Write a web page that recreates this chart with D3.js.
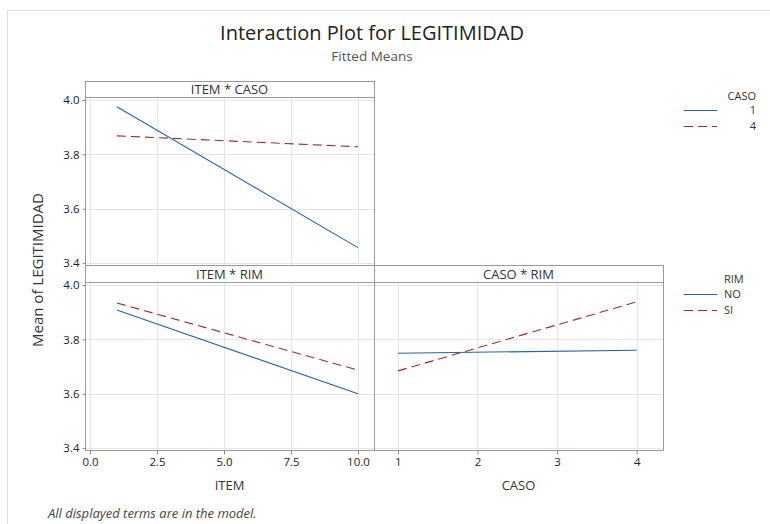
<!DOCTYPE html>
<html>
<head>
<meta charset="utf-8">
<script src="https://cdn.jsdelivr.net/npm/d3@7"></script>
<style>
  body { margin: 0; background: #fff; }
  svg text { font-family: "Open Sans", "Noto Sans", sans-serif; fill: #333; }
</style>
</head>
<body>
<div id="chart"></div>
<script>
// fitted means
var itemLevels = [1, 10];
var casoLevels = [1, 4];
var casoGroups = ["1", "4"];
var rimGroups = ["NO", "SI"];
var itemCaso1 = [3.975, 3.457];
var itemCaso4 = [3.868, 3.828];
var itemRimNO = [3.908, 3.600];
var itemRimSI = [3.934, 3.687];
var casoRimNO = [3.749, 3.760];
var casoRimSI = [3.684, 3.938];
var yTicks = [3.4, 3.6, 3.8, 4.0];
var itemTicks = [0, 2.5, 5, 7.5, 10];
var casoTicks = [1, 2, 3, 4];

var blue = "#1f63b5", red = "#a32a2a", dash = "9,5";

var svg = d3.select("#chart").append("svg")
  .attr("width", 770).attr("height", 524);

// outer frame
svg.append("rect").attr("x", 7.5).attr("y", 10.5).attr("width", 800).attr("height", 600)
  .attr("fill", "none").attr("stroke", "#ddd");

svg.append("text").attr("x", 372).attr("y", 40).attr("text-anchor", "middle")
  .style("font-size", "20px").style("fill", "#222").text("Interaction Plot for LEGITIMIDAD");
svg.append("text").attr("x", 372).attr("y", 61).attr("text-anchor", "middle")
  .style("font-size", "13.5px").style("fill", "#555").text("Fitted Means");

var itemDomain = [-0.19, 10.6], casoDomain = [0.70, 4.33], yDomain = [3.393, 4.011];

var panels = [
  { title: "ITEM * CASO", x0: 85, x1: 374, top: 81, y0: 97, y1: 265, dom: itemDomain, lv: itemLevels,
    series: [itemCaso1, itemCaso4], yAxis: true, xTicks: null },
  { title: "ITEM * RIM", x0: 85, x1: 374, top: 265, y0: 282, y1: 450, dom: itemDomain, lv: itemLevels,
    series: [itemRimNO, itemRimSI], yAxis: true, xTicks: itemTicks, xLabel: "ITEM", fmt: d3.format(".1f") },
  { title: "CASO * RIM", x0: 374, x1: 663, top: 265, y0: 282, y1: 450, dom: casoDomain, lv: casoLevels,
    series: [casoRimNO, casoRimSI], yAxis: false, xTicks: casoTicks, xLabel: "CASO", fmt: d3.format("d") }
];

panels.forEach(function(p) {
  var x = d3.scaleLinear().domain(p.dom).range([p.x0, p.x1]);
  var y = d3.scaleLinear().domain(yDomain).range([p.y1, p.y0]);
  var g = svg.append("g");
  var gridX = p.xTicks || itemTicks;

  g.selectAll(".gx").data(gridX).enter().append("line")
    .attr("x1", function(d) { return Math.round(x(d)) + 0.5; })
    .attr("x2", function(d) { return Math.round(x(d)) + 0.5; })
    .attr("y1", p.y0).attr("y2", p.y1).attr("stroke", "#e4e4e4");
  g.selectAll(".gy").data(yTicks).enter().append("line")
    .attr("y1", function(d) { return Math.round(y(d)) + 0.5; })
    .attr("y2", function(d) { return Math.round(y(d)) + 0.5; })
    .attr("x1", p.x0).attr("x2", p.x1).attr("stroke", "#e4e4e4");

  // header strip
  g.append("rect").attr("x", p.x0 + 0.5).attr("y", p.top + 0.5)
    .attr("width", p.x1 - p.x0).attr("height", p.y0 - p.top)
    .attr("fill", "#fff").attr("stroke", "#9a9a9a");
  g.append("text").attr("x", (p.x0 + p.x1) / 2).attr("y", p.y0 - 3.5)
    .attr("text-anchor", "middle").style("font-size", "13px").text(p.title);
  g.append("rect").attr("x", p.x0 + 0.5).attr("y", p.y0 + 0.5)
    .attr("width", p.x1 - p.x0).attr("height", p.y1 - p.y0)
    .attr("fill", "none").attr("stroke", "#9a9a9a");

  if (p.yAxis) {
    var ya = g.append("g").attr("transform", "translate(" + (p.x0 + 0.5) + ",0)")
      .call(d3.axisLeft(y).tickValues(yTicks).tickFormat(d3.format(".1f")).tickSize(3).tickPadding(3));
    ya.select(".domain").remove();
    ya.selectAll("line").attr("stroke", "#888");
    ya.selectAll("text").style("font-size", "11.5px").style("fill", "#222").style("font-family", "'Open Sans', sans-serif");
  }
  if (p.xTicks) {
    var xa = g.append("g").attr("transform", "translate(0," + (p.y1 + 0.5) + ")")
      .call(d3.axisBottom(x).tickValues(p.xTicks).tickFormat(p.fmt).tickSize(4).tickPadding(3));
    xa.select(".domain").remove();
    xa.selectAll("line").attr("stroke", "#888");
    xa.selectAll("text").style("font-size", "11.5px").style("fill", "#222").style("font-family", "'Open Sans', sans-serif");
    g.append("text").attr("x", (p.x0 + p.x1) / 2).attr("y", 490)
      .attr("text-anchor", "middle").style("font-size", "13px").text(p.xLabel);
  }

  var line = d3.line().x(function(d, i) { return x(p.lv[i]); }).y(function(d) { return y(d); });
  p.series.forEach(function(s, i) {
    g.append("path").datum(s).attr("d", line).attr("fill", "none")
      .attr("stroke", i === 0 ? blue : red).attr("stroke-width", 1.1)
      .attr("stroke-dasharray", i === 0 ? null : dash);
  });
});

// legends
function legend(title, groups, ty, ly, anchorEnd) {
  var lg = svg.append("g");
  lg.append("text").attr("x", anchorEnd ? 756 : 724).attr("y", ty)
    .attr("text-anchor", anchorEnd ? "end" : "start").style("font-size", "11px").text(title);
  groups.forEach(function(d, i) {
    var yy = ly[i];
    lg.append("line").attr("x1", 684).attr("x2", 717).attr("y1", yy + 0.5).attr("y2", yy + 0.5)
      .attr("stroke", i === 0 ? blue : red).attr("stroke-width", 1.1)
      .attr("stroke-dasharray", i === 0 ? null : dash);
    lg.append("text").attr("x", anchorEnd ? 756 : 724).attr("y", yy + 4)
      .attr("text-anchor", anchorEnd ? "end" : "start").style("font-size", "11px").text(d);
  });
}
legend("CASO", casoGroups, 100, [110, 126], true);
legend("RIM", rimGroups, 283, [294, 310], false);

svg.append("text").attr("transform", "translate(43,270) rotate(-90)")
  .attr("text-anchor", "middle").style("font-size", "15px").text("Mean of LEGITIMIDAD");

svg.append("text").attr("x", 48).attr("y", 518).style("font-size", "13px")
  .style("font-style", "italic").style("fill", "#444").text("All displayed terms are in the model.");
</script>
</body>
</html>
